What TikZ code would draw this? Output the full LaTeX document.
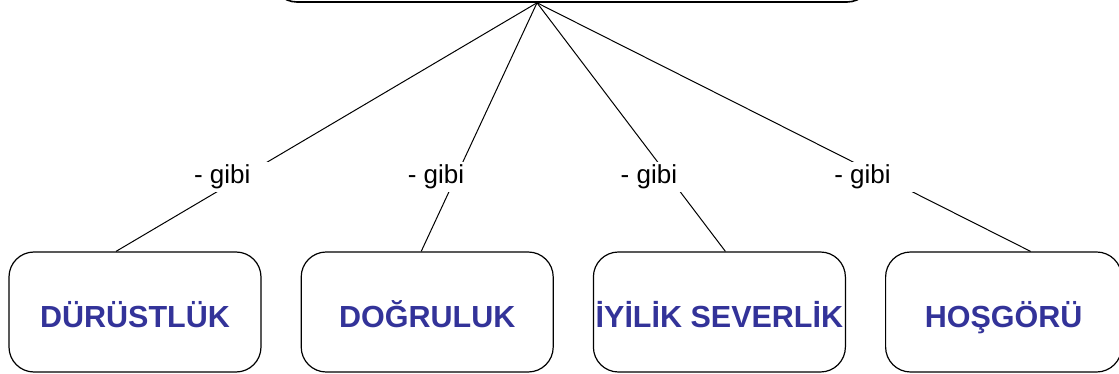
\documentclass[tikz,border=0pt]{standalone}
\usepackage{fontspec}
\setmainfont{Liberation Sans}
\usetikzlibrary{positioning}
\definecolor{degerblue}{RGB}{51,51,153}

\tikzset{
  deger/.style={draw, rounded corners=25pt, line width=1.2pt, minimum width=252pt, minimum height=120pt, inner xsep=0pt, text height=30pt, text depth=0pt, text=degerblue, font=\fontsize{30.5}{36}\selectfont\bfseries},
  gibi/.style={fill=white, inner xsep=24pt, inner ysep=3pt, xshift=-20pt, font=\fontsize{26}{30}\selectfont}
}

\begin{document}
\begin{tikzpicture}[x=1pt, y=-1pt]
    \useasboundingbox (0, 0) rectangle (1119, 374);
    \clip (0, 0) rectangle (1119, 374);

    \node[draw, rounded corners=25pt, line width=1.6pt, minimum width=600pt, minimum height=120pt] (konu) at (572, -58) {};
    \coordinate (hub) at ([xshift=-35pt]konu.south);

    \node[deger] (durust) at (135, 312) {DÜRÜSTLÜK};
    \node[deger, right=39pt of durust] (dogru) {DOĞRULUK};
    \node[deger, right=39pt of dogru] (iyilik) {İYİLİK SEVERLİK};
    \node[deger, right=39pt of iyilik, minimum width=236pt] (hosgoru) {HOŞGÖRÜ};

    \draw[line width=1pt] (hub) -- ([xshift=-19pt]durust.north) node[gibi, pos=0.7] {- gibi};
    \draw[line width=1pt] (hub) -- ([xshift=-6pt]dogru.north) node[gibi, pos=0.7] {- gibi};
    \draw[line width=1pt] (hub) -- ([xshift=6pt]iyilik.north) node[gibi, pos=0.7] {- gibi};
    \draw[line width=1pt] (hub) -- ([xshift=27pt]hosgoru.north) node[gibi, pos=0.7] {- gibi};
\end{tikzpicture}
\end{document}
